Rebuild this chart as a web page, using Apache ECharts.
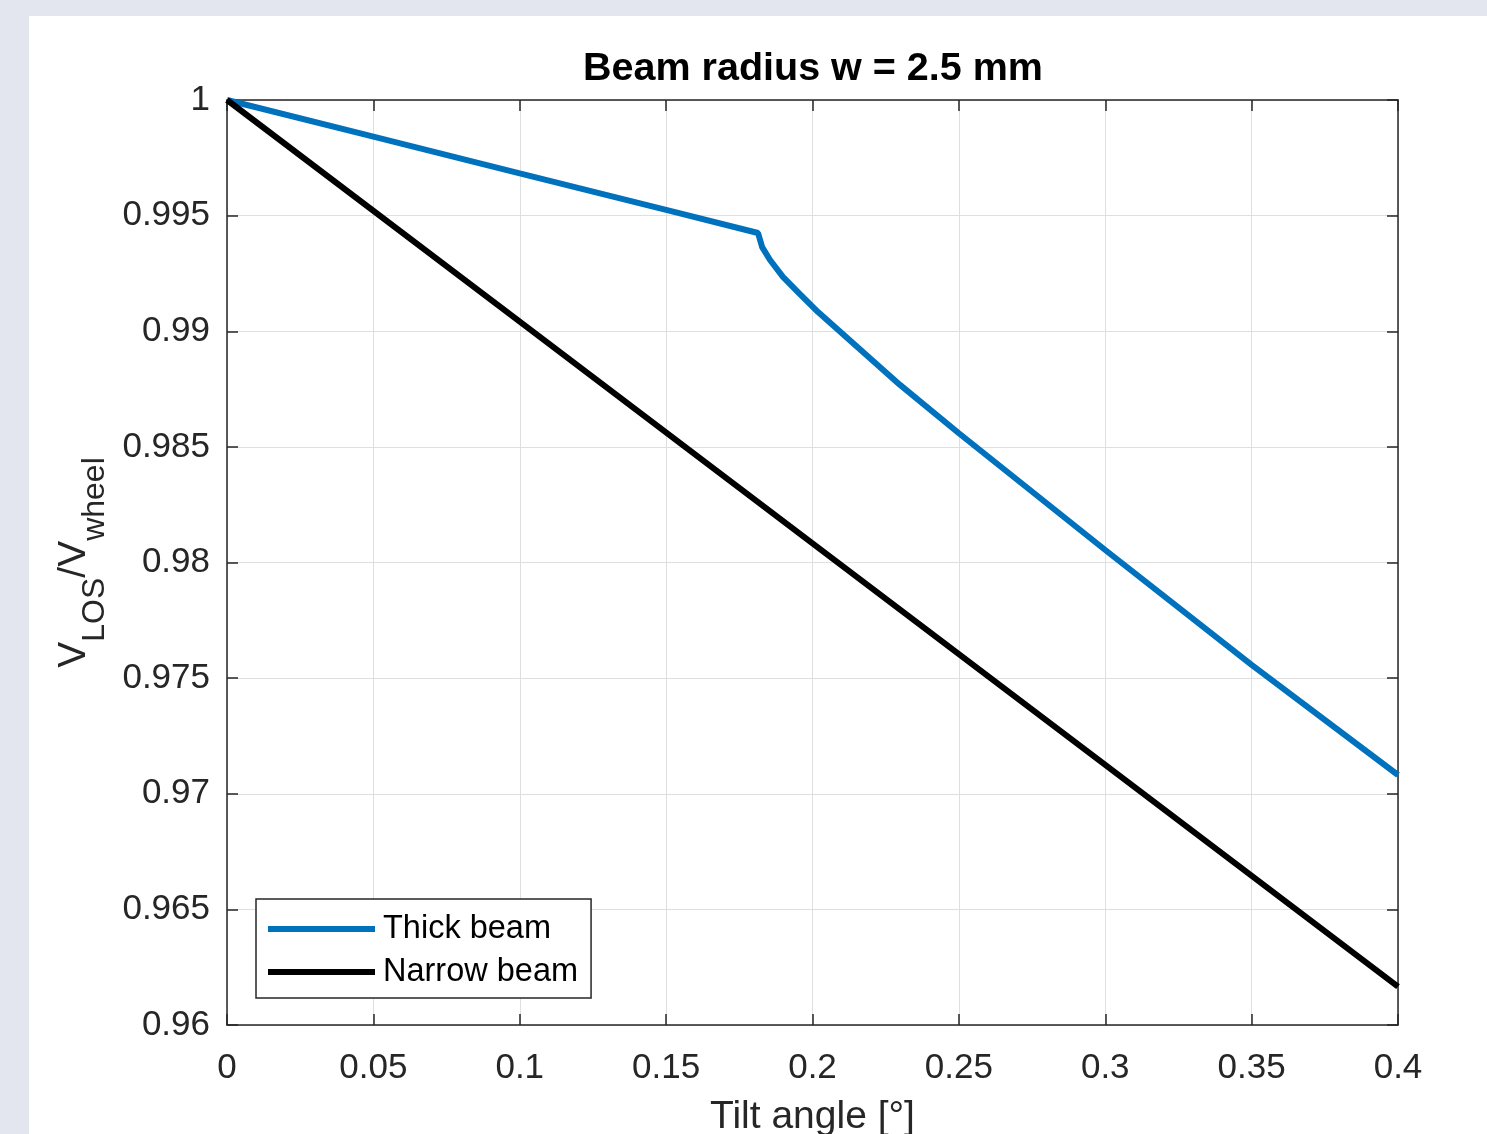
<!DOCTYPE html>
<html>
<head>
<meta charset="utf-8">
<script src="https://cdn.jsdelivr.net/npm/echarts@6/dist/echarts.min.js"></script>
<style>
  html, body { margin: 0; padding: 0; background: #e3e6ee; overflow: hidden; }
  #chart { position: absolute; left: 29px; top: 16px; width: 1458px; height: 1118px; background: #ffffff; }
</style>
</head>
<body>
<div id="chart"></div>
<script>
// values
var THICK_X = [0, 0.05, 0.1, 0.15, 0.1814, 0.1828, 0.1855, 0.1899, 0.1957, 0.2019, 0.2299, 0.25, 0.3, 0.35, 0.4];
var THICK_Y = [1, 0.99842, 0.99683, 0.99525, 0.99425, 0.99364, 0.99308, 0.99235, 0.99161, 0.99083, 0.98768, 0.98559, 0.98054, 0.97557, 0.97081];
var NARROW_X = [0, 0.1, 0.2, 0.3, 0.4];
var NARROW_Y = [1, 0.99042, 0.98083, 0.97125, 0.96166];
var SERIES_NAMES = ['Thick beam', 'Narrow beam'];

var FONT = "'Liberation Sans', Arial, Helvetica, sans-serif";
var AXIS_COLOR = '#262626';
var BLUE = '#0072BD';

function pairs(xs, ys) {
  return xs.map(function(x, i) { return [x, ys[i]]; });
}

var chart = echarts.init(document.getElementById('chart'));

var tickStyle = { show: true, inside: true, length: 11, lineStyle: { color: AXIS_COLOR, width: 1.5 } };
var lineStyleAxis = { show: true, onZero: false, lineStyle: { color: AXIS_COLOR, width: 1.5 } };

chart.setOption({
  animation: false,
  textStyle: { fontFamily: FONT },
  title: {
    text: 'Beam radius w = 2.5 mm',
    left: 779,
    top: 28,
    textAlign: 'center',
    textStyle: { fontFamily: FONT, fontSize: 39.5, fontWeight: 'bold', color: '#000' }
  },
  grid: { left: 198, right: 89, top: 84, bottom: 109, outerBoundsMode: 'none' },
  legend: {
    orient: 'vertical',
    left: 227,
    top: 883,
    padding: [13, 13, 9, 12],
    icon: 'rect',
    itemWidth: 107,
    itemHeight: 6,
    itemGap: 9,
    borderColor: AXIS_COLOR,
    borderWidth: 1.5,
    backgroundColor: '#ffffff',
    textStyle: { fontFamily: FONT, fontSize: 32.5, lineHeight: 34, color: '#000', padding: [0, 0, 0, 3] },
    data: SERIES_NAMES
  },
  xAxis: [{
    type: 'value',
    min: 0, max: 0.4, interval: 0.05,
    position: 'bottom',
    name: 'Tilt angle [°]',
    nameLocation: 'middle',
    nameGap: 73,
    nameTextStyle: { fontFamily: FONT, fontSize: 39, color: AXIS_COLOR },
    axisLine: lineStyleAxis,
    axisTick: tickStyle,
    axisLabel: {
      margin: 26, fontSize: 35, color: AXIS_COLOR, fontFamily: FONT,
      formatter: function(v) { return String(+v.toFixed(2)); }
    },
    splitLine: { show: true, lineStyle: { color: '#dfdfdf', width: 1 } }
  }, {
    type: 'value',
    min: 0, max: 0.4, interval: 0.05,
    position: 'top',
    axisLine: lineStyleAxis,
    axisTick: tickStyle,
    axisLabel: { show: false },
    splitLine: { show: false }
  }],
  yAxis: [{
    type: 'value',
    min: 0.96, max: 1, interval: 0.005,
    position: 'left',
    name: '{v|V}{s|LOS}{v|/V}{s|wheel}',
    nameLocation: 'middle',
    nameRotate: 90,
    nameGap: 121,
    nameTextStyle: {
      fontFamily: FONT,
      color: AXIS_COLOR,
      rich: {
        v: { fontFamily: FONT, fontSize: 39, color: AXIS_COLOR, lineHeight: 40, padding: [0, 0, 16, 0] },
        s: { fontFamily: FONT, fontSize: 32, color: AXIS_COLOR, lineHeight: 30, padding: [26, 0, 0, 0] }
      }
    },
    axisLine: lineStyleAxis,
    axisTick: tickStyle,
    axisLabel: {
      margin: 17, fontSize: 35, color: AXIS_COLOR, fontFamily: FONT,
      padding: [6, 0, 0, 0],
      formatter: function(v) { return String(+v.toFixed(3)); }
    },
    splitLine: { show: true, lineStyle: { color: '#dfdfdf', width: 1 } }
  }, {
    type: 'value',
    min: 0.96, max: 1, interval: 0.005,
    position: 'right',
    axisLine: lineStyleAxis,
    axisTick: tickStyle,
    axisLabel: { show: false },
    splitLine: { show: false }
  }],
  series: [{
    name: SERIES_NAMES[0],
    type: 'line',
    data: pairs(THICK_X, THICK_Y),
    showSymbol: false,
    symbol: 'none',
    clip: false,
    lineStyle: { color: BLUE, width: 6 },
    itemStyle: { color: BLUE },
    z: 3
  }, {
    name: SERIES_NAMES[1],
    type: 'line',
    data: pairs(NARROW_X, NARROW_Y),
    showSymbol: false,
    symbol: 'none',
    clip: false,
    lineStyle: { color: '#000000', width: 6 },
    itemStyle: { color: '#000000' },
    z: 3
  }]
});
</script>
</body>
</html>
